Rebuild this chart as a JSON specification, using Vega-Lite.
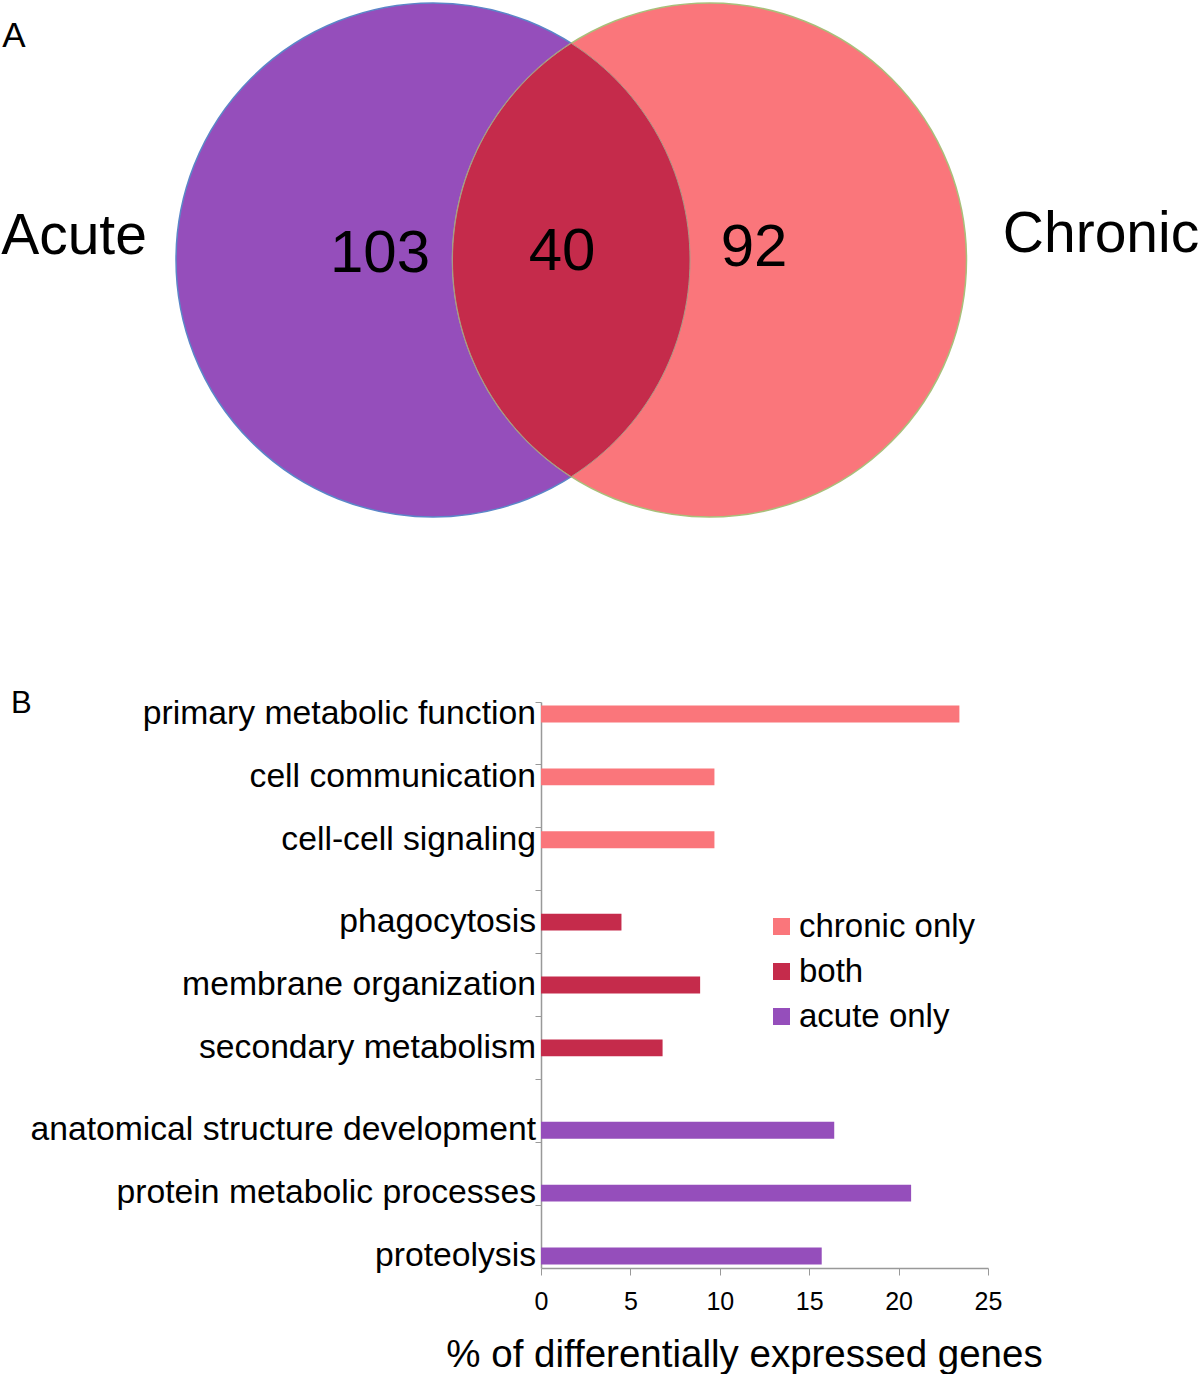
{
  "$schema": "https://vega.github.io/schema/vega-lite/v6.json",
  "padding": 0,
  "background": "white",
  "bounds": "flush",
  "align": "none",
  "spacing": 20,
  "config": {
    "font": "Liberation Sans",
    "view": {"stroke": null},
    "axis": {"labelFont": "Liberation Sans", "titleFont": "Liberation Sans"},
    "legend": {"labelFont": "Liberation Sans"}
  },
  "datasets": {
    "sets": [
      {"set": "Acute", "cx": 433, "cy": 258},
      {"set": "Chronic", "cx": 709.5, "cy": 258}
    ],
    "lens": [{"region": "both", "cx": 571.25, "cy": 258}],
    "counts": [
      {"n": "103", "x": 380, "y": 270},
      {"n": "40", "x": 562, "y": 268},
      {"n": "92", "x": 754, "y": 264}
    ],
    "names": [
      {"name": "Acute", "x": 74, "y": 252},
      {"name": "Chronic", "x": 1101, "y": 250}
    ],
    "panelA": [{"p": "A", "x": 14, "y": 45}],
    "go": [
      {"term": "primary metabolic function", "group": "chronic only", "pct": 23.4},
      {"term": "cell communication", "group": "chronic only", "pct": 9.7},
      {"term": "cell-cell signaling", "group": "chronic only", "pct": 9.7},
      {"term": "phagocytosis", "group": "both", "pct": 4.5},
      {"term": "membrane organization", "group": "both", "pct": 8.9},
      {"term": "secondary metabolism", "group": "both", "pct": 6.8},
      {"term": "anatomical structure development", "group": "acute only", "pct": 16.4},
      {"term": "protein metabolic processes", "group": "acute only", "pct": 20.7},
      {"term": "proteolysis", "group": "acute only", "pct": 15.7}
    ]
  },
  "resolve": {
    "scale": {"x": "independent", "y": "independent", "color": "independent", "fill": "independent", "stroke": "independent"},
    "legend": {"color": "independent", "fill": "independent", "stroke": "independent"}
  },
  "vconcat": [
    {
      "width": 1200,
      "height": 680,
      "layer": [
        {
          "data": {"name": "sets"},
          "mark": {"type": "point", "filled": true, "shape": "circle", "size": 264196, "opacity": 1, "strokeWidth": 1.5},
          "encoding": {
            "x": {"field": "cx", "type": "quantitative", "scale": {"domain": [0, 1200], "nice": false, "zero": false}, "axis": null},
            "y": {"field": "cy", "type": "quantitative", "scale": {"domain": [0, 680], "nice": false, "zero": false, "reverse": true}, "axis": null},
            "fill": {"field": "set", "type": "nominal", "scale": {"domain": ["Acute", "Chronic"], "range": ["#954EBB", "#FA767B"]}, "legend": null},
            "stroke": {"field": "set", "type": "nominal", "scale": {"domain": ["Acute", "Chronic"], "range": ["#5B86C8", "#A9BF7A"]}, "legend": null}
          }
        },
        {
          "data": {"name": "lens"},
          "mark": {"type": "point", "filled": true, "shape": "M0,-0.843A1,1 0 0,1 0,0.843A1,1 0 0,1 0,-0.843Z", "size": 264196, "opacity": 1, "fill": "#C52B4B", "stroke": "#A89A86", "strokeWidth": 1},
          "encoding": {
            "x": {"field": "cx", "type": "quantitative"},
            "y": {"field": "cy", "type": "quantitative"}
          }
        },
        {
          "data": {"name": "counts"},
          "mark": {"type": "text", "fontSize": 60, "align": "center", "baseline": "alphabetic", "color": "black"},
          "encoding": {
            "x": {"field": "x", "type": "quantitative"},
            "y": {"field": "y", "type": "quantitative"},
            "text": {"field": "n"}
          }
        },
        {
          "data": {"name": "names"},
          "mark": {"type": "text", "fontSize": 57, "align": "center", "baseline": "alphabetic", "color": "black"},
          "encoding": {
            "x": {"field": "x", "type": "quantitative"},
            "y": {"field": "y", "type": "quantitative"},
            "text": {"field": "name"}
          }
        },
        {
          "data": {"name": "panelA"},
          "mark": {"type": "text", "fontSize": 35, "align": "center", "baseline": "alphabetic", "color": "black"},
          "encoding": {
            "x": {"field": "x", "type": "quantitative"},
            "y": {"field": "y", "type": "quantitative"},
            "text": {"field": "p"}
          }
        }
      ]
    },
    {
      "bounds": "flush",
      "spacing": 0,
      "resolve": {
        "scale": {"x": "independent", "y": "independent", "color": "independent"},
        "legend": {"color": "independent"}
      },
      "hconcat": [
        {
          "width": 541,
          "height": 566,
          "layer": [
            {
              "data": {"name": "go"},
              "mark": {"type": "text", "align": "right", "baseline": "middle", "dx": -5, "fontSize": 33.7, "color": "black"},
              "encoding": {
                "x": {"datum": 1, "type": "quantitative", "scale": {"domain": [0, 1], "nice": false}, "axis": null},
                "y": {"field": "term", "type": "nominal", "scale": {"domain": ["primary metabolic function", "cell communication", "cell-cell signaling", "phagocytosis", "membrane organization", "secondary metabolism", "anatomical structure development", "protein metabolic processes", "proteolysis"], "paddingInner": 0, "paddingOuter": 0}, "axis": null},
                "yOffset": {"field": "group", "type": "nominal", "scale": {"domain": ["chronic only", "both", "acute only"], "paddingInner": 0.13, "paddingOuter": 0.18}},
                "text": {"field": "term"}
              }
            },
            {
              "data": {"values": [{"p": "B", "at": "primary metabolic function", "g": "chronic only"}]},
              "mark": {"type": "text", "align": "left", "baseline": "middle", "dx": 11, "dy": -10, "fontSize": 31, "color": "black"},
              "encoding": {
                "x": {"datum": 0, "type": "quantitative"},
                "y": {"field": "at", "type": "nominal"},
                "yOffset": {"field": "g", "type": "nominal"},
                "text": {"field": "p"}
              }
            }
          ]
        },
        {
          "width": 447,
          "height": 566,
          "data": {"name": "go"},
          "mark": {"type": "bar"},
          "encoding": {
            "y": {
              "field": "term", "type": "nominal",
              "scale": {"domain": ["primary metabolic function", "cell communication", "cell-cell signaling", "phagocytosis", "membrane organization", "secondary metabolism", "anatomical structure development", "protein metabolic processes", "proteolysis"], "paddingInner": 0, "paddingOuter": 0},
              "axis": {"labels": false, "title": null, "bandPosition": 0, "ticks": true, "tickSize": 6, "tickColor": "#999999", "domainColor": "#999999", "domainWidth": 1.5, "grid": false}
            },
            "yOffset": {"field": "group", "type": "nominal", "scale": {"domain": ["chronic only", "both", "acute only"], "paddingInner": 0.12, "paddingOuter": 0.16}},
            "x": {
              "field": "pct", "type": "quantitative",
              "scale": {"domain": [0, 25], "nice": false},
              "axis": {"values": [0, 5, 10, 15, 20, 25], "grid": false, "tickSize": 7, "tickColor": "#999999", "domainColor": "#999999", "domainWidth": 1.5, "labelFontSize": 25, "labelColor": "black", "labelPadding": 14, "labelFlush": false, "title": "% of differentially expressed genes", "titleFontSize": 38.5, "titleFontWeight": "normal", "titleColor": "black", "titlePadding": 22, "titleX": 203}
            },
            "color": {
              "field": "group", "type": "nominal",
              "scale": {"domain": ["chronic only", "both", "acute only"], "range": ["#FA767B", "#C52B4B", "#954EBB"]},
              "legend": {"orient": "none", "legendX": 224, "legendY": 208, "title": null, "symbolType": "square", "symbolSize": 289, "symbolStrokeWidth": 0, "symbolOpacity": 1, "labelFontSize": 33, "labelColor": "black", "labelOffset": 1, "labelLimit": 0, "rowPadding": 11, "padding": 0}
            }
          }
        }
      ]
    }
  ]
}
